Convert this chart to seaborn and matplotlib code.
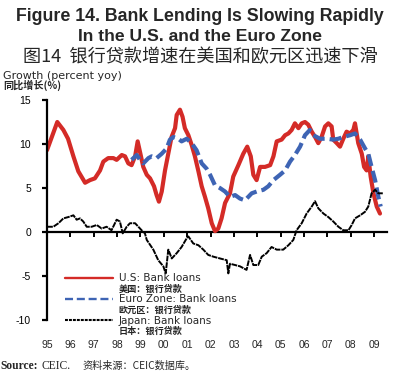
import matplotlib
matplotlib.use("Agg")
import matplotlib.pyplot as plt
import seaborn as sns

# data (decimal years, % yoy)
us_x = [1995.0, 1995.44, 1995.7, 1995.9, 1996.13, 1996.34, 1996.63, 1996.84, 1997.05, 1997.27,
        1997.41, 1997.62, 1997.84, 1997.98, 1998.2, 1998.34, 1998.48, 1998.62, 1998.77, 1998.88,
        1998.98, 1999.12, 1999.27, 1999.41, 1999.58, 1999.69, 1999.79, 1999.91, 2000.05, 2000.19,
        2000.33, 2000.48, 2000.55, 2000.69, 2000.8, 2000.9, 2001.05, 2001.19, 2001.33, 2001.48,
        2001.62, 2001.76, 2001.9, 2002.05, 2002.19, 2002.33, 2002.47, 2002.62, 2002.83, 2002.97,
        2003.19, 2003.4, 2003.57, 2003.72, 2003.83, 2003.97, 2004.12, 2004.33, 2004.55, 2004.69,
        2004.83, 2005.04, 2005.19, 2005.33, 2005.47, 2005.61, 2005.76, 2005.9, 2006.04, 2006.18,
        2006.33, 2006.47, 2006.61, 2006.75, 2006.9, 2007.04, 2007.18, 2007.25, 2007.4, 2007.54,
        2007.68, 2007.82, 2007.97, 2008.11, 2008.18, 2008.32, 2008.47, 2008.57, 2008.68, 2008.75,
        2008.85, 2008.97, 2009.11, 2009.25]
us_y = [9.3, 12.5, 11.6, 10.6, 8.6, 6.9, 5.6, 5.9, 6.1, 7.0,
        8.0, 8.4, 8.4, 8.2, 8.75, 8.6, 7.8, 7.6, 8.6, 10.3,
        9.1, 7.4, 6.5, 6.1, 5.2, 4.2, 3.45, 4.6, 7.0, 8.9,
        10.8, 11.8, 13.3, 13.9, 13.1, 11.8, 11.0, 9.9, 8.6, 6.9,
        5.2, 4.0, 2.7, 1.0, 0.1, 0.4, 1.55, 3.3, 4.4, 6.3,
        7.6, 8.9, 9.7, 8.6, 6.5, 5.9, 7.4, 7.4, 7.6, 8.6,
        10.3, 10.5, 11.0, 11.2, 11.6, 12.35, 11.8, 12.35, 12.5, 12.2,
        11.4, 10.8, 10.1, 10.8, 12.0, 12.35, 12.0, 10.5, 10.1, 9.7,
        10.6, 11.4, 11.2, 11.6, 12.35, 10.1, 8.9, 7.4, 7.0, 8.6,
        6.3, 4.4, 2.9, 2.1]

euro_x = [1998.62, 1998.84, 1998.98, 1999.12, 1999.34, 1999.48, 1999.69, 1999.91, 2000.12, 2000.26,
          2000.41, 2000.62, 2000.76, 2000.98, 2001.19, 2001.4, 2001.62, 2001.83, 2001.98, 2002.19,
          2002.4, 2002.62, 2002.83, 2003.05, 2003.26, 2003.47, 2003.76, 2003.97, 2004.26, 2004.47,
          2004.69, 2004.97, 2005.19, 2005.4, 2005.61, 2005.83, 2006.04, 2006.25, 2006.4, 2006.68,
          2006.97, 2007.25, 2007.47, 2007.68, 2007.97, 2008.18, 2008.4, 2008.61, 2008.75, 2008.89,
          2009.04, 2009.18, 2009.28]
euro_y = [8.2, 8.75, 8.2, 7.8, 8.4, 8.6, 8.4, 8.9, 9.5, 10.5,
          10.8, 10.6, 10.3, 10.6, 10.1, 9.3, 7.8, 7.2, 6.5, 5.3,
          5.0, 4.6, 4.0, 4.2, 3.8, 3.6, 4.4, 4.6, 4.8, 5.2,
          5.9, 6.5, 7.0, 8.0, 8.75, 9.7, 11.0, 11.6, 11.0, 10.6,
          10.6, 10.5, 10.6, 10.8, 11.0, 11.2, 10.5, 9.5, 8.9, 7.4,
          5.9, 4.0, 2.9]

jp_x = [1995.0, 1995.27, 1995.49, 1995.7, 1995.91, 1996.13, 1996.27, 1996.41, 1996.55, 1996.7,
        1996.91, 1997.13, 1997.34, 1997.55, 1997.76, 1997.98, 1998.12, 1998.24, 1998.41, 1998.55,
        1998.77, 1998.91, 1999.05, 1999.19, 1999.27, 1999.55, 1999.76, 1999.98, 2000.08, 2000.19,
        2000.34, 2000.55, 2000.76, 2000.98, 2001.05, 2001.26, 2001.48, 2001.69, 2001.9, 2002.12,
        2002.4, 2002.69, 2002.76, 2002.83, 2003.05, 2003.26, 2003.54, 2003.69, 2003.83, 2004.04,
        2004.19, 2004.4, 2004.61, 2004.83, 2005.11, 2005.33, 2005.54, 2005.68, 2005.9, 2006.11,
        2006.33, 2006.47, 2006.61, 2006.83, 2007.04, 2007.25, 2007.47, 2007.68, 2007.9, 2008.04,
        2008.18, 2008.4, 2008.61, 2008.75, 2008.89, 2009.04, 2009.18, 2009.37]
jp_y = [0.6, 0.6, 1.0, 1.55, 1.7, 1.9, 1.4, 1.55, 1.2, 0.6,
        0.6, 0.8, 0.4, 0.6, 0.2, 1.4, 1.2, -0.15, 0.6, 1.0,
        1.0, 0.6, 0.2, -0.15, -0.9, -2.0, -3.2, -3.9, -4.7, -2.0,
        -3.0, -2.4, -1.7, -0.7, -0.5, -1.3, -1.5, -2.0, -2.6, -2.8,
        -3.0, -3.2, -4.7, -3.6, -3.75, -3.9, -4.3, -2.6, -3.75, -3.75,
        -2.8, -2.4, -1.7, -2.0, -2.0, -1.5, -0.9, 0.2, 1.0, 2.1,
        2.9, 3.5, 2.7, 2.1, 1.7, 1.2, 0.6, 0.2, 0.2, 0.8,
        1.55, 1.9, 2.3, 2.9, 4.4, 4.8, 4.4, 4.4]

year_ticks = list(range(1995, 2010))
year_labels = ["95", "96", "97", "98", "99", "00", "01", "02", "03", "04",
               "05", "06", "07", "08", "09"]
y_ticks = [-10, -5, 0, 5, 10, 15]

legend_labels = ["U.S: Bank loans", "美国：银行贷款",
                 "Euro Zone: Bank loans", "欧元区：银行贷款",
                 "Japan: Bank loans", "日本：银行贷款"]

sns.set_style("white")
plt.rcParams['font.family'] = ['Liberation Sans', 'Noto Sans CJK SC']
plt.rcParams['axes.unicode_minus'] = False

fig = plt.figure(figsize=(4, 3.76), dpi=100)
ax = fig.add_axes([0.1175, 0.102, 0.85, 0.632])

red = '#d42b27'
blue = '#3e64b4'

sns.lineplot(x=us_x, y=us_y, ax=ax, color=red, linewidth=3.0, solid_joinstyle='round')
sns.lineplot(x=euro_x, y=euro_y, ax=ax, color=blue, linewidth=3.0)
ax.lines[-1].set_dashes([2.9, 1.2])
ax.lines[-1].set_dash_capstyle('butt')
sns.lineplot(x=jp_x, y=jp_y, ax=ax, color='black', linewidth=1.4)
ax.lines[-1].set_dashes([3.0, 0.45])

ax.set_xlim(1995.0, 2009.55)
ax.set_ylim(-12, 15)

for s in ['top', 'right']:
    ax.spines[s].set_visible(False)
ax.spines['left'].set_bounds(-10, 15)
ax.spines['left'].set_linewidth(1.6)
ax.spines['left'].set_color('black')
ax.spines['bottom'].set_position(('data', 0))
ax.spines['bottom'].set_linewidth(1.6)
ax.spines['bottom'].set_color('black')
ax.spines['bottom'].set_zorder(1)

ax.set_yticks(y_ticks)
ax.set_yticklabels([str(v) for v in y_ticks])
ax.tick_params(axis='y', direction='out', length=3.5, width=1.6, pad=8,
               labelsize=7.5, colors='black', left=True)
ax.set_xticks(year_ticks)
ax.tick_params(axis='x', direction='out', length=3.8, width=1.4, bottom=True,
               labelbottom=False, colors='black')
ax.set_xlabel('')
ax.set_ylabel('')

sec = ax.secondary_xaxis('bottom')
sec.set_xticks(year_ticks)
sec.set_xticklabels(year_labels)
sec.spines['bottom'].set_visible(False)
sec.tick_params(length=0, pad=1.5, labelsize=7.5)

# legend: each series gets an English row with the line and a Chinese row below
h_us, h_eu, h_jp = ax.lines[0], ax.lines[1], ax.lines[2]
blank = plt.Line2D([], [], color='none')
leg = ax.legend([h_us, blank, h_eu, blank, h_jp, blank], legend_labels,
                loc='upper left', bbox_to_anchor=(0.053, 0.272), frameon=False,
                handlelength=4.6, handletextpad=0.55, handleheight=0.5,
                labelspacing=0.1, borderpad=0, borderaxespad=0,
                prop={'family': ['DejaVu Sans', 'Noto Sans CJK SC'], 'size': 7.5})
for i, t in enumerate(leg.get_texts()):
    if i % 2 == 1:
        t.set_fontsize(6.6)
        t.set_fontweight('bold')
        t.set_family(['Noto Sans CJK SC'])
for i, h in enumerate(leg.legend_handles):
    if i == 2:
        h.set_linewidth(1.7)
        h.set_dashes([3.4, 1.6])
    elif i == 4:
        h.set_linewidth(1.5)
        h.set_dashes([1.4, 0.5])
    else:
        h.set_linewidth(1.7)

fig.text(0.5, 0.955, "Figure 14. Bank Lending Is Slowing Rapidly", ha='center', va='center',
         fontsize=12.8, fontweight='bold')
fig.text(0.5, 0.903, "In the U.S. and the Euro Zone", ha='center', va='center',
         fontsize=12.6, fontweight='bold')
fig.text(0.5, 0.847, "图14  银行贷款增速在美国和欧元区迅速下滑", ha='center', va='center',
         fontsize=13.1, family=['Noto Sans CJK SC'])
fig.text(0.008, 0.799, "Growth (percent yoy)", ha='left', va='center', fontsize=8.0,
         family=['DejaVu Sans'])
fig.text(0.008, 0.772, "同比增长(%)", ha='left', va='center', fontsize=7.3,
         fontweight='bold', family=['Noto Sans CJK SC'])

fig.text(0.0, 0.027, "Source:", ha='left', va='center', fontsize=8.3, fontweight='bold',
         family=['Liberation Serif'])
fig.text(0.105, 0.027, "CEIC.", ha='left', va='center', fontsize=8.3,
         family=['Liberation Serif'])
fig.text(0.207, 0.027, "资料来源：CEIC数据库。", ha='left', va='center', fontsize=7.3,
         family=['Noto Sans CJK SC'])

fig.savefig("out.png", dpi=100)
